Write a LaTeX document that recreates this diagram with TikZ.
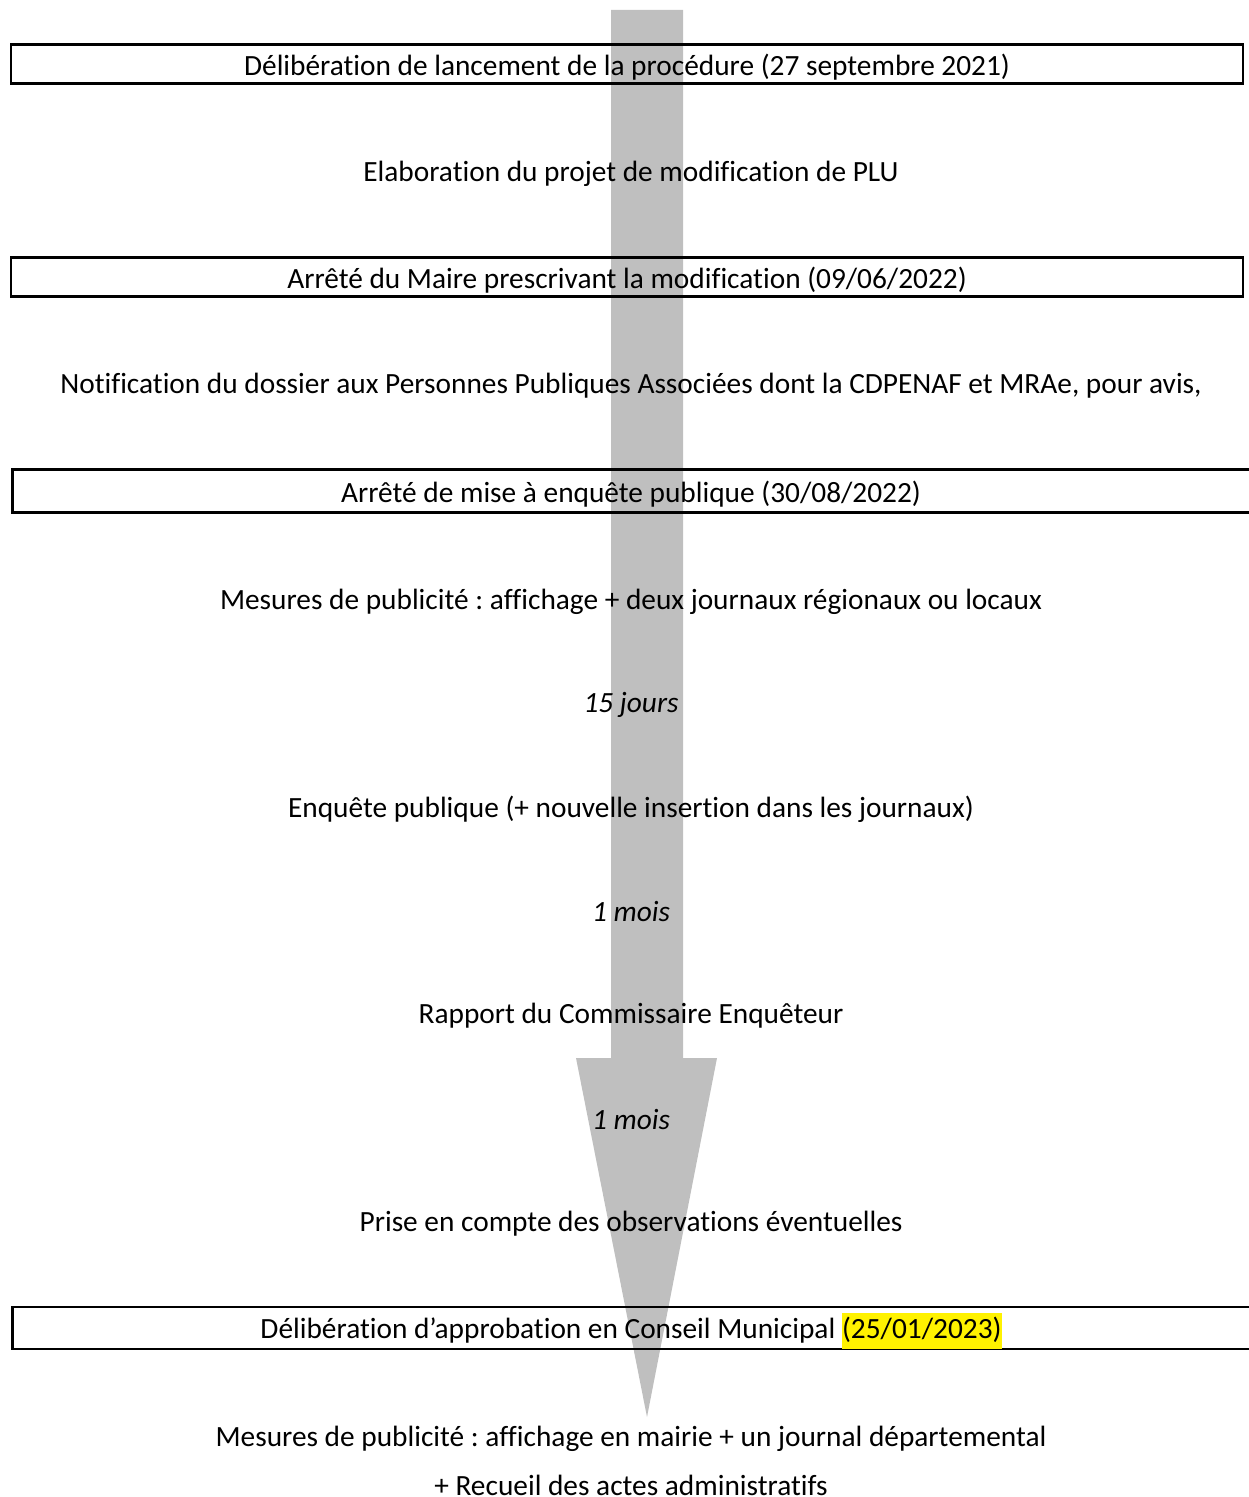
\documentclass[tikz,border=0pt]{standalone}
\usepackage{fontspec}
\setmainfont{Carlito}[Ligatures=NoCommon]
\usetikzlibrary{positioning}

\definecolor{arrowgrey}{RGB}{191,191,191}
\frenchspacing
\newcommand{\boxline}[1]{\raisebox{-1.7pt}[\height][\depth]{#1}}

\begin{document}
\begin{tikzpicture}[x=0.02cm, y=-0.02cm, font=\fontsize{16.7}{20}\selectfont,
		stepbox/.style={draw, line width=1.3pt, inner sep=0pt, minimum height=0.8cm},
		steptext/.style={inner sep=0pt, yshift=-1.7pt},
		delay/.style={steptext, font=\fontsize{16.7}{20}\selectfont\itshape}]
	\useasboundingbox (0,0) rectangle (1248,1497);

	% big grey arrow behind everything
	\coordinate (shafttl) at (611,10);
	\coordinate (shafttr) at (683,10);
	\coordinate (tip) at (647,1417);
	\fill[arrowgrey] (shafttl) -- (shafttr) -- (683,1058) -- (717,1058) -- (tip)
		-- (576,1058) -- (611,1058) -- cycle;

	\node[stepbox, minimum width=24.64cm, minimum height=0.78cm] (lancement) at (627,64)
		{\boxline{Délibération de lancement de la procédure (27 septembre 2021)}};
	\node[steptext] (elaboration) at (631,171) {Elaboration du projet de modification de PLU};
	\node[stepbox, minimum width=24.64cm, minimum height=0.78cm] (prescription) at (627,277)
		{\boxline{Arrêté du Maire prescrivant la modification (09/06/2022)}};
	\node[steptext] (notification) at (631,383)
		{Notification du dossier aux Personnes Publiques Associées dont la CDPENAF et MRAe, pour avis,};
	\node[stepbox, minimum width=24.9cm, minimum height=0.86cm] (enquetearrete) at (635,491)
		{\hspace*{-0.16cm}\boxline{Arrêté de mise à enquête publique (30/08/2022)}};
	\node[steptext] (publicite) at (631,599)
		{Mesures de publicité : affichage + deux journaux régionaux ou locaux};
	\node[delay] (quinze) at (631,702) {15 jours};
	\node[steptext] (enquete) at (631,806)
		{Enquête publique (+ nouvelle insertion dans les journaux)};
	\node[delay] (moisa) at (631,909) {1 mois};
	\node[steptext] (rapport) at (631,1013) {Rapport du Commissaire Enquêteur};
	\node[delay] (moisb) at (631,1117) {1 mois};
	\node[steptext] (observations) at (631,1221) {Prise en compte des observations éventuelles};
	\node[stepbox, minimum width=24.9cm, minimum height=0.84cm] (approbation) at (635,1328)
		{\hspace*{-0.16cm}\boxline{Délibération d’approbation en Conseil Municipal {\setlength{\fboxsep}{0pt}\colorbox{yellow}{\strut(25/01/2023)}}}};
	\node[steptext] (publiciteb) at (631,1436)
		{Mesures de publicité : affichage en mairie + un journal départemental};
	\node[steptext, below=0.40cm of publiciteb] (recueil) {+ Recueil des actes administratifs};
\end{tikzpicture}
\end{document}
